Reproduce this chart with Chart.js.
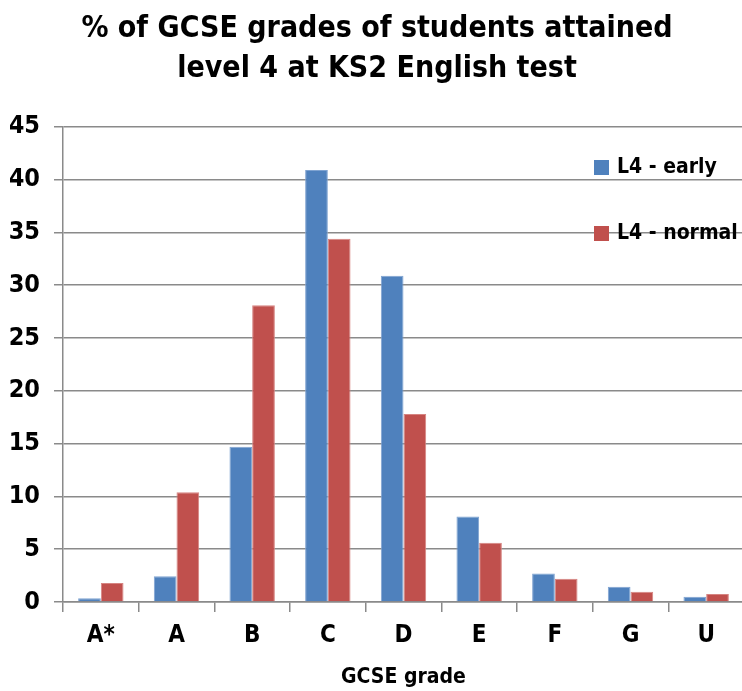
<!DOCTYPE html>
<html>
<head>
<meta charset="utf-8">
<script src="https://cdn.jsdelivr.net/npm/chart.js@4.4.1/dist/chart.umd.min.js"></script>
<style>
  html, body { margin: 0; padding: 0; background: #fff; overflow: hidden; }
  #wrap { width: 748px; height: 691px; }
</style>
</head>
<body>
<div id="wrap"><canvas id="gcse-chart"></canvas></div>
<script>
// GCSE grade distribution for pupils reaching level 4 at KS2 English
const grades = ["A*", "A", "B", "C", "D", "E", "F", "G", "U"];
const earlyPct = [0.35, 2.45, 14.7, 40.9, 30.9, 8.1, 2.7, 1.45, 0.5];
const normalPct = [1.8, 10.4, 28.1, 34.4, 17.8, 5.6, 2.2, 0.97, 0.75];
const yTicks = [0, 5, 10, 15, 20, 25, 30, 35, 40, 45];

const FONT = "'DejaVu Sans Condensed', 'DejaVu Sans', sans-serif";
const GRID = "#8a8a8a";

// legend drawn inside the plot, top right, like the original sheet
const insideLegend = {
  id: "insideLegend",
  afterDraw(chart) {
    const ctx = chart.ctx;
    const x = 594, rows = [167, 233];
    ctx.save();
    ctx.font = "bold 21px " + FONT;
    ctx.textBaseline = "middle";
    chart.data.datasets.forEach((ds, i) => {
      const y = rows[i];
      ctx.fillStyle = ds.backgroundColor;
      ctx.fillRect(x, y - 7, 15, 15);
      ctx.fillStyle = "#000";
      ctx.fillText(ds.label, x + 23, y + 1);
    });
    ctx.restore();
  }
};

new Chart(document.getElementById("gcse-chart").getContext("2d"), {
  type: "bar",
  data: {
    labels: grades,
    datasets: [
      { label: "L4 - early", data: earlyPct, backgroundColor: "#4f81bd", borderColor: "#7fa3d1", borderWidth: 1 },
      { label: "L4 - normal", data: normalPct, backgroundColor: "#c0504d", borderColor: "#d68481", borderWidth: 1 }
    ]
  },
  options: {
    responsive: true,
    maintainAspectRatio: false,
    animation: false,
    layout: { padding: { top: 0, right: 4, left: 10, bottom: 1 } },
    datasets: { bar: { categoryPercentage: 0.6, barPercentage: 1.0 } },
    plugins: {
      legend: { display: false },
      tooltip: { enabled: false },
      title: {
        display: true,
        text: ["% of GCSE grades of students attained", "level 4 at KS2 English test"],
        color: "#000",
        font: { family: FONT, size: 30, weight: "bold", lineHeight: 1.33 },
        padding: { top: 9, bottom: 38 }
      }
    },
    scales: {
      x: {
        grid: { display: true, drawOnChartArea: false, color: GRID, lineWidth: 1.5, tickLength: 10, offset: true },
        border: { color: GRID, width: 1.5 },
        ticks: { color: "#000", font: { family: FONT, size: 24, weight: "bold" }, padding: 9 },
        title: { display: true, text: "GCSE grade", color: "#000", font: { family: FONT, size: 21, weight: "bold" }, padding: { top: 6, bottom: 0 } }
      },
      y: {
        min: 0,
        max: 45,
        afterBuildTicks(axis) { axis.ticks = yTicks.map(v => ({ value: v })); },
        afterFit(axis) { axis.width = 53; },
        grid: { color: GRID, lineWidth: 1.5, tickLength: 9 },
        border: { color: GRID, width: 1.5 },
        ticks: { color: "#000", font: { family: FONT, size: 25, weight: "bold" }, padding: 14 }
      }
    }
  },
  plugins: [insideLegend]
});
</script>
</body>
</html>
